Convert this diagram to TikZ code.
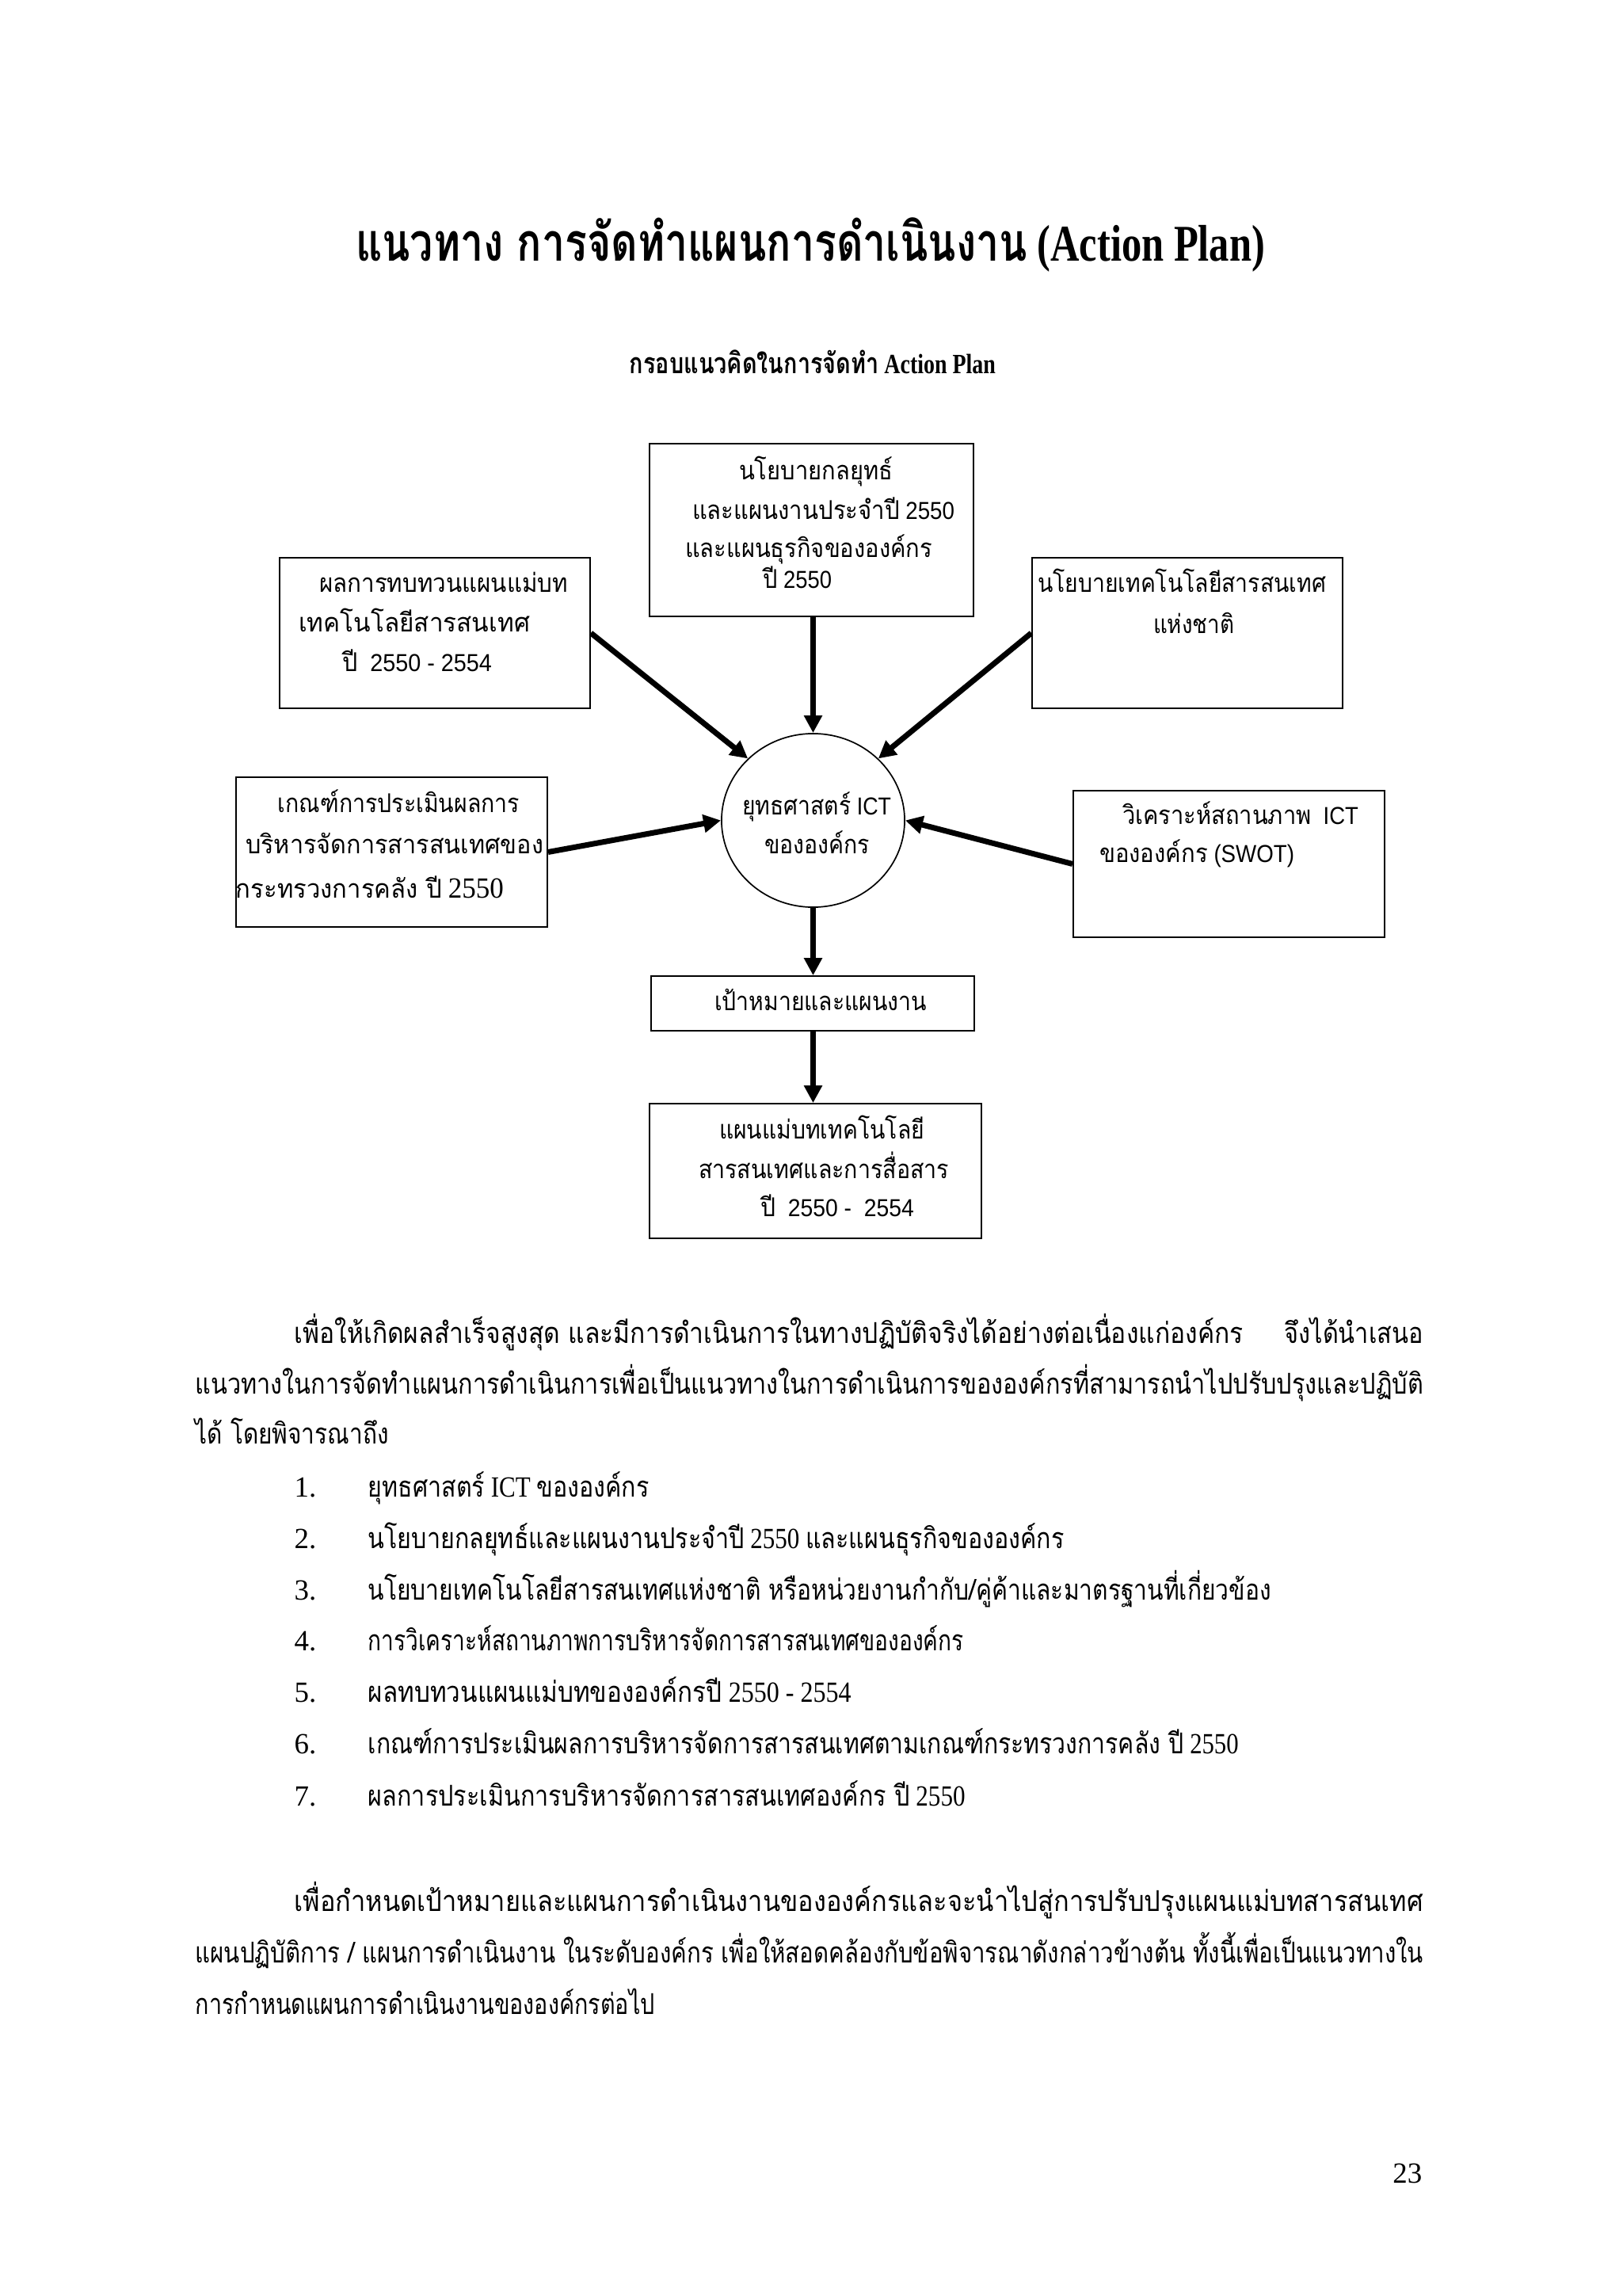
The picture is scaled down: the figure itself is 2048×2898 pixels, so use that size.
\documentclass[tikz,border=0pt]{standalone}
\usepackage{fontspec}
\usepackage{graphicx}
\usetikzlibrary{shapes.geometric,arrows.meta}
\setmainfont{Liberation Serif}
\setsansfont{Liberation Sans}
\newfontfamily\thai[Script=Thai]{Loma}
\newlength\pxu \setlength\pxu{0.01cm}
% Thai runs: in boxes (BT), in body (RT)
\newcommand\BT[1]{{\thai\fontsize{9.3}{11}\selectfont #1}}
\newcommand\RT[1]{{\thai\fontsize{10.3}{12}\selectfont #1}}
\newcommand\fw[2]{\resizebox{#1\pxu}{\height}{#2}}
\begin{document}
\begin{tikzpicture}[x=0.01cm,y=-0.01cm,
  frame/.style={draw, line width=0.017cm, rectangle, inner sep=0},
  btxt/.style={anchor=base, inner sep=0, font=\sffamily\fontsize{8.8}{10}\selectfont},
  rtxt/.style={anchor=base west, inner sep=0, font=\rmfamily\fontsize{10.5}{12}\selectfont},
  arr/.style={line width=0.07cm, -{Triangle[length=0.22cm,width=0.22cm]}}]
\fill[white] (0,0) rectangle (2048,2898);
\useasboundingbox (0,0) rectangle (2048,2898);

% title
\node[anchor=base, inner sep=0, font=\rmfamily\bfseries\fontsize{18.5}{21}\selectfont] (title) at (1023,330)
  {\fw{1148}{{\thai\bfseries\fontsize{19}{22}\selectfont แนวทาง การจัดทำแผนการดำเนินงาน} (Action Plan)}};
\node[anchor=base, inner sep=0, font=\rmfamily\bfseries\fontsize{10}{12}\selectfont] (sub) at (1026,472)
  {\fw{462}{{\thai\bfseries\fontsize{10.3}{12}\selectfont กรอบแนวคิดในการจัดทำ} Action Plan}};

% boxes
\node[frame, minimum width=4.09cm, minimum height=2.18cm] (top) at (1024.5,669) {};
\node[frame, minimum width=3.92cm, minimum height=1.90cm] (lt) at (549,799) {};
\node[frame, minimum width=3.92cm, minimum height=1.90cm] (rt) at (1499,799) {};
\node[frame, minimum width=3.93cm, minimum height=1.89cm] (lm) at (494.5,1075.5) {};
\node[frame, minimum width=3.93cm, minimum height=1.85cm] (rm) at (1551.5,1090.5) {};
\node[draw, line width=0.017cm, ellipse, inner sep=0, minimum width=2.31cm, minimum height=2.19cm] (ict) at (1026.5,1035.5) {};
\node[frame, minimum width=4.08cm, minimum height=0.69cm] (goal) at (1026,1266.5) {};
\node[frame, minimum width=4.19cm, minimum height=1.70cm] (bot) at (1029.5,1478) {};

% box texts
\node[btxt] (top1) at (1030,606) {\fw{194}{\BT{นโยบายกลยุทธ์}}};
\node[btxt] (top2) at (1039.5,656) {\fw{331}{\BT{และแผนงานประจำปี} 2550}};
\node[btxt] (top3) at (1021,704) {\fw{312}{\BT{และแผนธุรกิจขององค์กร}}};
\node[btxt] (top4) at (1006.5,743) {\fw{87}{\BT{ปี} 2550}};

\node[btxt] (lt1) at (560,748) {\fw{314}{\BT{ผลการทบทวนแผนแม่บท}}};
\node[btxt] (lt2) at (523,798) {\fw{292}{\BT{เทคโนโลยีสารสนเทศ}}};
\node[btxt] (lt3) at (526.5,848) {\fw{189}{\BT{ปี}\ \ 2550 - 2554}};

\node[btxt] (rt1) at (1492,748) {\fw{364}{\BT{นโยบายเทคโนโลยีสารสนเทศ}}};
\node[btxt] (rt2) at (1507,800) {\fw{102}{\BT{แห่งชาติ}}};

\node[btxt] (lm1) at (503.5,1025) {\fw{305}{\BT{เกณฑ์การประเมินผลการ}}};
\node[btxt] (lm2) at (498,1077) {\fw{376}{\BT{บริหารจัดการสารสนเทศของ}}};
\node[btxt] (lm3) at (467,1133) {\fw{338}{\BT{กระทรวงการคลัง ปี} {\rmfamily\fontsize{10.5}{12}\selectfont 2550}}};

\node[btxt] (rm1) at (1566,1040) {\fw{298}{\BT{วิเคราะห์สถานภาพ}\ \ ICT}};
\node[btxt] (rm2) at (1511,1088) {\fw{246}{\BT{ขององค์กร} (SWOT)}};

\node[btxt] (ict1) at (1031,1028) {\fw{188}{\BT{ยุทธศาสตร์} ICT}};
\node[btxt] (ict2) at (1031.5,1077) {\fw{133}{\BT{ขององค์กร}}};

\node[btxt] (goal1) at (1036,1275) {\fw{268}{\BT{เป้าหมายและแผนงาน}}};

\node[btxt] (bot1) at (1037.5,1437) {\fw{259}{\BT{แผนแม่บทเทคโนโลยี}}};
\node[btxt] (bot2) at (1040,1487) {\fw{316}{\BT{สารสนเทศและการสื่อสาร}}};
\node[btxt] (bot3) at (1057,1535) {\fw{194}{\BT{ปี}\ \ 2550 -\ \ 2554}};

% connectors
\draw[arr] (lt.east) -- (ict.north west);
\draw[arr] (ict.north |- top.south) -- (ict.north);
\draw[arr] (rt.west) -- (ict.north east);
\draw[arr] (lm.east) -- (ict.west);
\draw[arr] (rm.west) -- (ict.east);
\draw[arr] (ict.south) -- (ict.south |- goal.north);
\draw[arr] (ict.south |- goal.south) -- (ict.south |- bot.north);

% body paragraph 1
\node[rtxt] (p1a) at (371,1695) {\fw{1198}{\RT{เพื่อให้เกิดผลสำเร็จสูงสุด และมีการดำเนินการในทางปฏิบัติจริงได้อย่างต่อเนื่องแก่องค์กร}}};
\node[rtxt] (p1b) at (1621,1695) {\fw{175}{\RT{จึงได้นำเสนอ}}};
\node[rtxt] (p1c) at (246,1759) {\fw{1550}{\RT{แนวทางในการจัดทำแผนการดำเนินการเพื่อเป็นแนวทางในการดำเนินการขององค์กรที่สามารถนำไปปรับปรุงและปฏิบัติ}}};
\node[rtxt] (p1d) at (246,1822) {\fw{244}{\RT{ได้ โดยพิจารณาถึง}}};

% list
\node[rtxt] (n1) at (371,1889) {1.};
\node[rtxt] (n2) at (371,1954) {2.};
\node[rtxt] (n3) at (371,2019) {3.};
\node[rtxt] (n4) at (371,2083) {4.};
\node[rtxt] (n5) at (371,2148) {5.};
\node[rtxt] (n6) at (371,2213) {6.};
\node[rtxt] (n7) at (371,2279) {7.};
\node[rtxt] (i1) at (464,1889) {\fw{355}{\RT{ยุทธศาสตร์} ICT \RT{ขององค์กร}}};
\node[rtxt] (i2) at (464,1954) {\fw{879}{\RT{นโยบายกลยุทธ์และแผนงานประจำปี} 2550 \RT{และแผนธุรกิจขององค์กร}}};
\node[rtxt] (i3) at (464,2019) {\fw{1140}{\RT{นโยบายเทคโนโลยีสารสนเทศแห่งชาติ หรือหน่วยงานกำกับ/คู่ค้าและมาตรฐานที่เกี่ยวข้อง}}};
\node[rtxt] (i4) at (464,2083) {\fw{752}{\RT{การวิเคราะห์สถานภาพการบริหารจัดการสารสนเทศขององค์กร}}};
\node[rtxt] (i5) at (464,2148) {\fw{610}{\RT{ผลทบทวนแผนแม่บทขององค์กรปี} 2550 - 2554}};
\node[rtxt] (i6) at (464,2213) {\fw{1099}{\RT{เกณฑ์การประเมินผลการบริหารจัดการสารสนเทศตามเกณฑ์กระทรวงการคลัง ปี} 2550}};
\node[rtxt] (i7) at (464,2279) {\fw{754}{\RT{ผลการประเมินการบริหารจัดการสารสนเทศองค์กร ปี} 2550}};

% body paragraph 2
\node[rtxt] (p2a) at (371,2412) {\fw{1425}{\RT{เพื่อกำหนดเป้าหมายและแผนการดำเนินงานขององค์กรและจะนำไปสู่การปรับปรุงแผนแม่บทสารสนเทศ}}};
\node[rtxt] (p2b) at (246,2477) {\fw{1550}{\RT{แผนปฏิบัติการ / แผนการดำเนินงาน ในระดับองค์กร เพื่อให้สอดคล้องกับข้อพิจารณาดังกล่าวข้างต้น ทั้งนี้เพื่อเป็นแนวทางใน}}};
\node[rtxt] (p2c) at (246,2542) {\fw{580}{\RT{การกำหนดแผนการดำเนินงานขององค์กรต่อไป}}};

% page number
\node[anchor=base east, inner sep=0, font=\rmfamily\fontsize{10.5}{12}\selectfont] (pg) at (1796,2755) {23};
\end{tikzpicture}
\end{document}
